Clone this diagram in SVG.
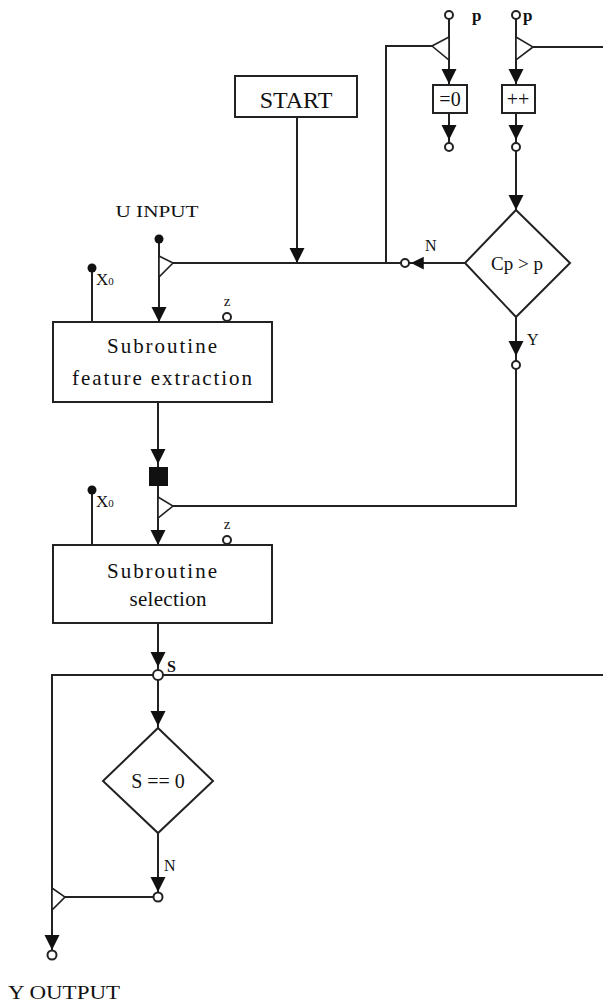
<svg xmlns="http://www.w3.org/2000/svg" width="603" height="1006" viewBox="0 0 603 1006">
  <style>
    .ln { fill: none; stroke: #222; stroke-width: 2; }
    .box { fill: #fff; stroke: #222; stroke-width: 2; }
    .port { fill: #fff; stroke: #222; stroke-width: 2; }
    .dot { fill: #111; }
    .tri { fill: #fff; stroke: #222; stroke-width: 1.6; }
    text { font-family: "Liberation Serif", "Times New Roman", serif; fill: #111; }
    .mid { text-anchor: middle; }
    .lbl { font-size: 16px; }
  </style>
  <defs>
    <!-- filled arrowhead, tip at origin, pointing down -->
    <path id="ah" d="M-7.5,-15 L7.5,-15 L0,0 Z" fill="#111"/>
  </defs>

  <!-- connectors -->
  <g id="connectors">
    <!-- START to main line -->
    <line class="ln" x1="297" y1="117" x2="297" y2="263"/>
    <use href="#ah" transform="translate(297,263)"/>
    <!-- main horizontal line -->
    <line class="ln" x1="159" y1="263" x2="465" y2="263"/>
    <!-- loop back up to p reset -->
    <polyline class="ln" points="386,263 386,46 432,46"/>
    <!-- p reset column -->
    <line class="ln" x1="449" y1="19" x2="449" y2="85"/>
    <use href="#ah" transform="translate(449,84)"/>
    <line class="ln" x1="449" y1="113" x2="449" y2="143"/>
    <use href="#ah" transform="translate(449,140)"/>
    <!-- p increment column -->
    <line class="ln" x1="516" y1="19" x2="516" y2="85"/>
    <use href="#ah" transform="translate(516,84)"/>
    <line class="ln" x1="516" y1="113" x2="516" y2="143"/>
    <use href="#ah" transform="translate(516,140)"/>
    <line class="ln" x1="533" y1="47" x2="603" y2="47"/>
    <line class="ln" x1="516" y1="151" x2="516" y2="210"/>
    <use href="#ah" transform="translate(516,210)"/>
    <!-- N branch arrow of Cp > p -->
    <use href="#ah" transform="translate(411,263) rotate(90) scale(0.85)"/>
    <!-- Y branch of Cp > p -->
    <line class="ln" x1="516" y1="317" x2="516" y2="361"/>
    <use href="#ah" transform="translate(516,356)"/>
    <polyline class="ln" points="516,369 516,506 173,506"/>
    <!-- U input to feature extraction -->
    <line class="ln" x1="159" y1="239" x2="159" y2="322"/>
    <use href="#ah" transform="translate(159,322)"/>
    <line class="ln" x1="92" y1="268" x2="92" y2="322"/>
    <!-- feature extraction to selection -->
    <line class="ln" x1="158" y1="402" x2="158" y2="545"/>
    <use href="#ah" transform="translate(158,464)"/>
    <use href="#ah" transform="translate(158,545)"/>
    <line class="ln" x1="92" y1="490" x2="92" y2="545"/>
    <!-- selection output S -->
    <line class="ln" x1="158" y1="623" x2="158" y2="728"/>
    <use href="#ah" transform="translate(158,667)"/>
    <use href="#ah" transform="translate(158,726)"/>
    <polyline class="ln" points="603,675 52,675 52,951"/>
    <use href="#ah" transform="translate(52,950)"/>
    <!-- N branch of S == 0 -->
    <line class="ln" x1="158" y1="833" x2="158" y2="893"/>
    <use href="#ah" transform="translate(158,892)"/>
    <line class="ln" x1="65" y1="897" x2="153" y2="897"/>
  </g>

  <!-- input/output ports and junction markers -->
  <g id="ports">
    <circle class="port" cx="449" cy="15" r="4"/>
    <circle class="port" cx="516" cy="15" r="4"/>
    <circle class="port" cx="449" cy="147" r="4"/>
    <circle class="port" cx="516" cy="147" r="4"/>
    <circle class="port" cx="405" cy="263" r="4"/>
    <circle class="port" cx="516" cy="365" r="4"/>
    <circle class="port" cx="227" cy="317" r="4"/>
    <circle class="port" cx="227" cy="540" r="4"/>
    <circle class="port" cx="158" cy="675" r="5"/>
    <circle class="port" cx="158" cy="897" r="4.5"/>
    <circle class="port" cx="52" cy="955" r="4.5"/>
    <circle class="dot" cx="159" cy="239" r="4.5"/>
    <circle class="dot" cx="92" cy="268" r="4.5"/>
    <circle class="dot" cx="92" cy="490" r="4.5"/>
    <rect class="dot" x="149" y="467" width="19" height="19"/>
    <!-- merge triangles -->
    <polygon class="tri" points="449,37 432,46 449,60"/>
    <polygon class="tri" points="516,37 533,47 516,60"/>
    <polygon class="tri" points="159,256 173,263 159,277"/>
    <polygon class="tri" points="158,497 173,506 158,518"/>
    <polygon class="tri" points="52,888 65,897 52,910"/>
  </g>

  <g id="start">
    <rect class="box" x="235" y="76" width="122" height="41"/>
    <text class="mid" x="296" y="108" font-size="24">START</text>
  </g>

  <g id="reset-p">
    <rect class="box" x="433" y="85" width="34" height="28"/>
    <text class="mid" x="450" y="106" font-size="20">=0</text>
    <text x="472" y="21" font-size="17" font-weight="bold">p</text>
  </g>

  <g id="increment-p">
    <rect class="box" x="502" y="85" width="33" height="28"/>
    <text class="mid" x="518" y="106" font-size="20">++</text>
    <text x="523" y="21" font-size="17" font-weight="bold">p</text>
  </g>

  <g id="check-cp">
    <polygon class="box" points="516,210 570,263 516,317 465,263"/>
    <text class="mid" x="517" y="270" font-size="19">Cp &gt; p</text>
    <text class="lbl" x="425" y="251">N</text>
    <text class="lbl" x="527" y="345">Y</text>
  </g>

  <g id="u-input">
    <text class="mid" x="157" y="217" font-size="16" textLength="83" lengthAdjust="spacingAndGlyphs">U INPUT</text>
  </g>

  <g id="feature-extraction">
    <rect class="box" x="53" y="322" width="219" height="80"/>
    <text class="mid" x="162" y="353" font-size="21" textLength="110" lengthAdjust="spacing">Subroutine</text>
    <text class="mid" x="162" y="385" font-size="21" textLength="180" lengthAdjust="spacing">feature extraction</text>
    <text x="96" y="285" font-size="17">X<tspan font-size="11">0</tspan></text>
    <text class="mid" x="227" y="306" font-size="15">z</text>
  </g>

  <g id="selection">
    <rect class="box" x="53" y="545" width="219" height="78"/>
    <text class="mid" x="162" y="578" font-size="21" textLength="110" lengthAdjust="spacing">Subroutine</text>
    <text class="mid" x="168" y="606" font-size="21" textLength="77" lengthAdjust="spacing">selection</text>
    <text x="96" y="507" font-size="17">X<tspan font-size="11">0</tspan></text>
    <text class="mid" x="227" y="529" font-size="15">z</text>
    <text class="lbl" x="167" y="672" font-weight="bold">S</text>
  </g>

  <g id="check-s">
    <polygon class="box" points="158,728 213,781 158,833 103,781"/>
    <text class="mid" x="158" y="788" font-size="20">S == 0</text>
    <text class="lbl" x="164" y="871">N</text>
  </g>

  <g id="y-output">
    <text x="8" y="999" font-size="18" textLength="112" lengthAdjust="spacingAndGlyphs">Y OUTPUT</text>
  </g>
</svg>
